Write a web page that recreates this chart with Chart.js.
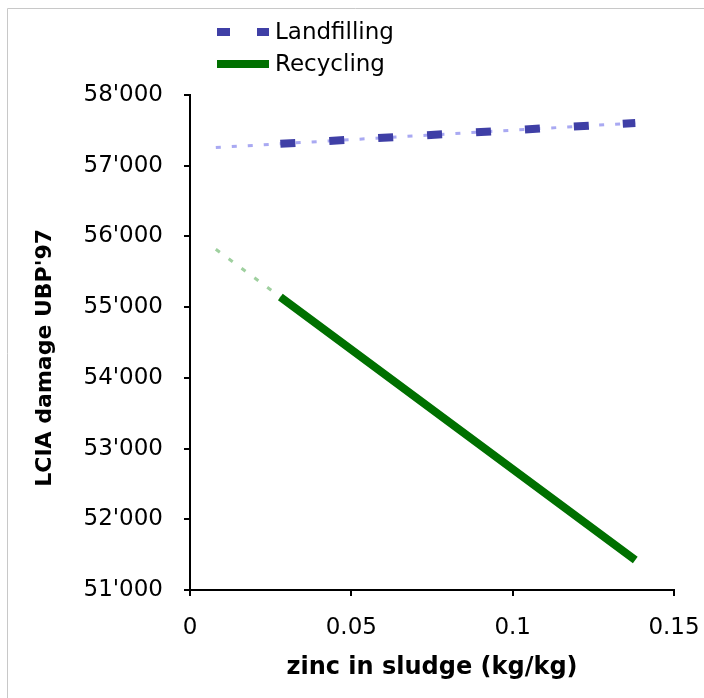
<!DOCTYPE html>
<html>
<head>
<meta charset="utf-8">
<script src="https://cdn.jsdelivr.net/npm/chart.js@4"></script>
<style>
    body { margin: 0; background: #fff; }
    #wrap { width: 704px; height: 698px; }
</style>
</head>
<body>
<div id="wrap"><canvas id="lcia-chart" width="704" height="698"></canvas></div>
<script>
// zinc content of the sludge (kg/kg) for the scenario points
var zincLevels = [0.028, 0.083, 0.138];
var landfilling = [57310, 57457, 57604];
var recycling = [55143, 53284, 51424];

// linear trend lines (forecast backwards to 0.008)
var trendZinc = [0.008, 0.138];
var landfillingTrend = [57257, 57604];
var recyclingTrend = [55819, 51424];

var xTicks = [0, 0.05, 0.1, 0.15];
var yTicks = [51000, 52000, 53000, 54000, 55000, 56000, 57000, 58000];

var FONT = "'DejaVu Sans', Verdana, sans-serif";

function toPoints(xs, ys) {
    return xs.map(function (x, i) { return {x: x, y: ys[i]}; });
}

function formatThousands(v) {
    var s = String(Math.round(v));
    return s.replace(/\B(?=(\d{3})+(?!\d))/g, "'");
}

// frame of the original sheet (only top and left edges visible) + legend
var decorPlugin = {
    id: 'decor',
    beforeDraw: function (chart) {
        var ctx = chart.ctx;
        ctx.save();
        ctx.strokeStyle = '#c8c8c8';
        ctx.lineWidth = 1;
        ctx.beginPath();
        ctx.moveTo(7.5, 698);
        ctx.lineTo(7.5, 8.5);
        ctx.lineTo(704, 8.5);
        ctx.stroke();
        ctx.restore();
    },
    afterDraw: function (chart) {
        var ctx = chart.ctx;
        var items = [chart.data.datasets[0], chart.data.datasets[1]];
        var rowY = [32, 64];
        ctx.save();
        items.forEach(function (ds, i) {
            ctx.beginPath();
            ctx.strokeStyle = ds.borderColor;
            ctx.lineWidth = ds.borderWidth;
            ctx.setLineDash(ds.borderDash ? [13, 27] : []);
            ctx.moveTo(217, rowY[i]);
            ctx.lineTo(269, rowY[i]);
            ctx.stroke();
            ctx.setLineDash([]);
            ctx.fillStyle = '#000';
            ctx.font = '23px ' + FONT;
            ctx.textBaseline = 'middle';
            ctx.textAlign = 'left';
            ctx.fillText(ds.label, 275, rowY[i] + 1);
        });
        ctx.restore();
    }
};

var ctx = document.getElementById('lcia-chart').getContext('2d');
var myChart = new Chart(ctx, {
    type: 'scatter',
    data: {
        datasets: [{
            label: 'Landfilling',
            data: toPoints(zincLevels, landfilling),
            showLine: true,
            borderColor: '#3f3fa6',
            borderWidth: 8,
            borderDash: [15, 34],
            borderCapStyle: 'butt',
            pointRadius: 0,
            order: 1
        }, {
            label: 'Recycling',
            data: toPoints(zincLevels, recycling),
            showLine: true,
            borderColor: '#007000',
            borderWidth: 8,
            pointRadius: 0,
            order: 1
        }, {
            label: 'Landfilling trend',
            data: toPoints(trendZinc, landfillingTrend),
            showLine: true,
            borderColor: '#a9a9f2',
            borderWidth: 3,
            borderDash: [5, 11],
            pointRadius: 0,
            order: 2
        }, {
            label: 'Recycling trend',
            data: toPoints(trendZinc, recyclingTrend),
            showLine: true,
            borderColor: '#9fd09f',
            borderWidth: 3,
            borderDash: [5, 11],
            pointRadius: 0,
            order: 2
        }]
    },
    options: {
        responsive: false,
        devicePixelRatio: 1,
        animation: false,
        layout: {padding: {left: 0, right: 30, top: 95, bottom: 0}},
        plugins: {
            legend: {display: false},
            tooltip: {enabled: false}
        },
        scales: {
            x: {
                type: 'linear',
                min: 0,
                max: 0.15,
                afterBuildTicks: function (scale) {
                    scale.ticks = xTicks.map(function (v) { return {value: v}; });
                },
                afterFit: function (scale) {
                    scale.height = 108;
                    scale.paddingLeft = 0;
                    scale.paddingRight = 0;
                },
                ticks: {
                    color: '#000',
                    font: {family: FONT, size: 23},
                    padding: 18,
                    maxRotation: 0,
                    callback: function (v) { return String(v); }
                },
                grid: {drawOnChartArea: false, drawTicks: true, tickLength: 6, color: '#000', lineWidth: 2},
                border: {display: true, color: '#000', width: 2},
                title: {
                    display: true,
                    text: 'zinc in sludge (kg/kg)',
                    color: '#000',
                    font: {family: FONT, size: 24, weight: 'bold'},
                    padding: {top: 0, bottom: 16}
                }
            },
            y: {
                type: 'linear',
                min: 51000,
                max: 58000,
                afterBuildTicks: function (scale) {
                    scale.ticks = yTicks.map(function (v) { return {value: v}; });
                },
                afterFit: function (scale) {
                    scale.width = 190;
                    scale.paddingTop = 0;
                    scale.paddingBottom = 0;
                },
                ticks: {
                    color: '#000',
                    font: {family: FONT, size: 23},
                    padding: 21,
                    callback: function (v) { return formatThousands(v); }
                },
                grid: {drawOnChartArea: false, drawTicks: true, tickLength: 6, color: '#000', lineWidth: 2},
                border: {display: true, color: '#000', width: 2},
                title: {
                    display: true,
                    // trailing spaces nudge the rotated title down a little, as in the original
                    text: "LCIA damage UBP'97    ",
                    color: '#000',
                    font: {family: FONT, size: 22, weight: 'bold'},
                    padding: {top: 32, bottom: 0}
                }
            }
        }
    },
    plugins: [decorPlugin]
});
</script>
</body>
</html>
